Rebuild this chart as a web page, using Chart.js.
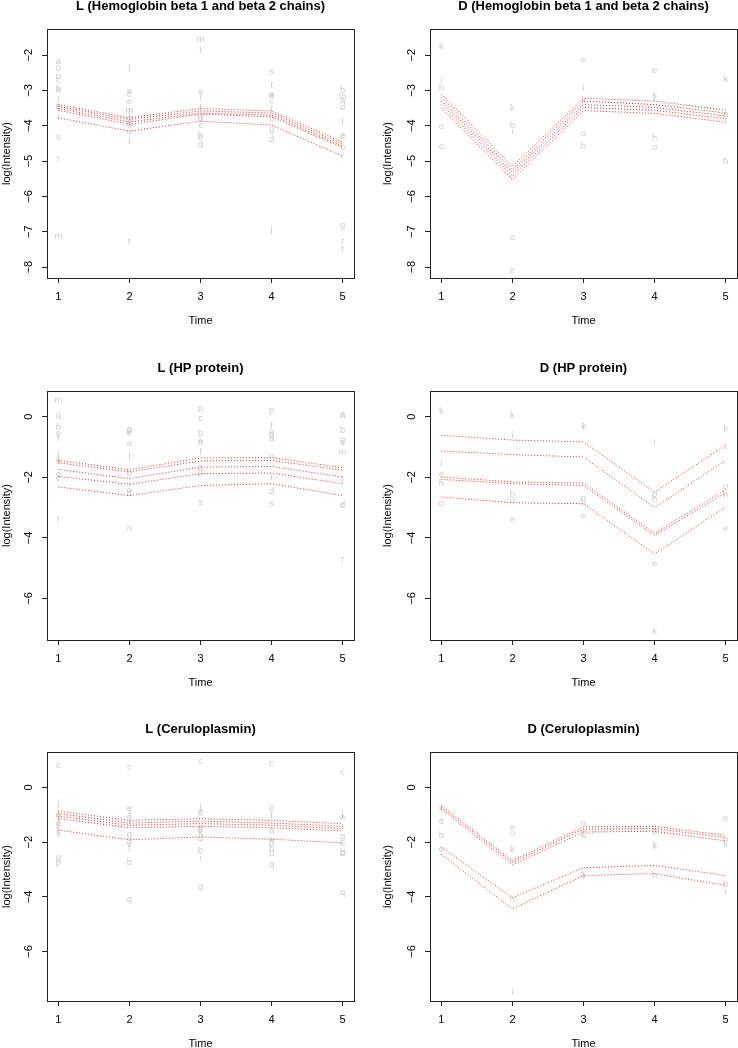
<!DOCTYPE html>
<html>
<head>
<meta charset="utf-8">
<title>log(Intensity) over time</title>
<script src="https://cdn.jsdelivr.net/npm/chart.js@4.4.1/dist/chart.umd.min.js"></script>
<style>
  body { margin: 0; background: #fff; width: 738px; height: 1048px; overflow: hidden; position: relative; }
  canvas { position: absolute; }
</style>
</head>
<body>
<canvas id="hbL" width="369" height="330" style="left:0;top:0"></canvas>
<canvas id="hbD" width="369" height="330" style="left:369px;top:0"></canvas>
<canvas id="hpL" width="369" height="330" style="left:0;top:362px"></canvas>
<canvas id="hpD" width="369" height="330" style="left:369px;top:362px"></canvas>
<canvas id="cpL" width="369" height="330" style="left:0;top:723px"></canvas>
<canvas id="cpD" width="369" height="330" style="left:369px;top:723px"></canvas>
<script>
// time points and tick labels
const times = [1, 2, 3, 4, 5];
const hbTicks = [-8, -7, -6, -5, -4, -3, -2];
const evenTicks = [-6, -4, -2, 0];

// axis limits (R pads the data range by 4%)
const hbRange = [-8.31, -1.26];
const hpRange = [-7.37, 0.85];
const cpRange = [-7.81, 1.30];

// sample labels: [time, letter, log intensity]
const hbL_pts = [
  [1,'a',-2.17],[1,'o',-2.38],[1,'p',-2.60],[1,'c',-2.71],[1,'n',-2.95],[1,'k',-3.01],[1,'l',-3.28],
  [1,'e',-3.45],[1,'b',-3.49],[1,'i',-3.75],[1,'s',-4.32],[1,'r',-4.93],[1,'m',-7.13],
  [2,'l',-2.38],[2,'a',-3.04],[2,'c',-3.11],[2,'e',-3.32],[2,'m',-3.56],[2,'f',-3.64],[2,'g',-3.80],
  [2,'d',-3.92],[2,'b',-3.98],[2,'o',-4.17],[2,'j',-4.39],[2,'r',-7.26],
  [3,'m',-1.56],[3,'t',-1.86],[3,'a',-3.04],[3,'l',-3.23],[3,'f',-3.51],[3,'g',-3.73],[3,'d',-3.80],
  [3,'c',-3.98],[3,'b',-4.27],[3,'e',-4.32],[3,'q',-4.52],
  [4,'s',-2.47],[4,'t',-2.85],[4,'a',-3.11],[4,'e',-3.13],[4,'c',-3.32],[4,'f',-3.56],[4,'b',-3.80],
  [4,'g',-4.11],[4,'d',-4.39],[4,'j',-6.94],
  [5,'b',-2.99],[5,'m',-3.18],[5,'a',-3.28],[5,'d',-3.47],[5,'l',-3.89],[5,'e',-4.27],[5,'c',-4.30],
  [5,'o',-4.60],[5,'g',-6.82],[5,'r',-7.26],[5,'t',-7.51]
];
const hbD_pts = [
  [1,'k',-1.74],[1,'i',-2.71],[1,'h',-2.95],[1,'o',-4.03],[1,'e',-4.58],
  [2,'k',-3.51],[2,'h',-4.00],[2,'i',-4.15],[2,'o',-7.15],[2,'e',-8.08],
  [3,'e',-2.14],[3,'i',-2.95],[3,'k',-3.28],[3,'o',-4.22],[3,'h',-4.57],
  [4,'e',-2.43],[4,'k',-3.13],[4,'i',-3.26],[4,'h',-4.36],[4,'o',-4.62],
  [5,'k',-2.68],[5,'e',-3.68],[5,'o',-3.73],[5,'i',-3.84],[5,'h',-5.02]
];
const hpL_pts = [
  [1,'m',0.55],[1,'q',0.03],[1,'b',-0.36],[1,'e',-0.55],[1,'f',-0.72],[1,'l',-1.27],[1,'a',-1.41],
  [1,'s',-1.46],[1,'g',-1.90],[1,'c',-2.04],[1,'r',-3.40],
  [2,'g',-0.42],[2,'p',-0.46],[2,'c',-0.55],[2,'a',-0.88],[2,'l',-1.33],[2,'b',-1.86],[2,'i',-2.21],
  [2,'e',-2.43],[2,'d',-2.54],[2,'n',-3.67],
  [3,'p',0.28],[3,'c',-0.06],[3,'b',-0.55],[3,'e',-0.81],[3,'n',-0.86],[3,'f',-1.16],[3,'a',-1.66],
  [3,'g',-1.82],[3,'s',-2.84],
  [4,'p',0.20],[4,'f',-0.33],[4,'e',-0.50],[4,'g',-0.57],[4,'a',-0.72],[4,'o',-1.27],[4,'i',-1.99],
  [4,'d',-2.45],[4,'s',-2.87],
  [5,'a',0.09],[5,'n',0.02],[5,'b',-0.44],[5,'g',-0.75],[5,'e',-0.83],[5,'m',-1.16],[5,'l',-2.10],
  [5,'d',-2.90],[5,'c',-2.93],[5,'r',-4.70]
];
const hpD_pts = [
  [1,'k',0.17],[1,'i',-1.55],[1,'e',-1.90],[1,'h',-2.21],[1,'o',-2.87],
  [2,'k',0.03],[2,'i',-0.61],[2,'h',-2.56],[2,'o',-2.76],[2,'e',-3.40],
  [3,'k',-0.31],[3,'i',-0.35],[3,'o',-2.71],[3,'h',-2.84],[3,'e',-3.29],
  [4,'i',-0.83],[4,'o',-2.56],[4,'h',-2.73],[4,'e',-4.84],[4,'k',-7.10],
  [5,'k',-0.39],[5,'i',-0.99],[5,'o',-2.29],[5,'h',-2.57],[5,'e',-3.67]
];
const cpL_pts = [
  [1,'c',0.82],[1,'j',-0.59],[1,'o',-0.98],[1,'e',-1.05],[1,'a',-1.26],[1,'f',-1.32],[1,'k',-1.44],
  [1,'s',-1.63],[1,'t',-1.71],[1,'g',-2.54],[1,'p',-2.73],
  [2,'c',0.73],[2,'e',-0.77],[2,'i',-0.86],[2,'a',-1.01],[2,'f',-1.26],[2,'g',-1.71],[2,'d',-1.99],
  [2,'r',-2.08],[2,'t',-2.24],[2,'b',-2.73],[2,'q',-4.10],
  [3,'c',0.94],[3,'j',-0.71],[3,'g',-0.89],[3,'e',-1.44],[3,'a',-1.54],[3,'k',-1.63],[3,'d',-1.87],
  [3,'b',-2.30],[3,'i',-2.60],[3,'q',-3.62],
  [4,'c',0.90],[4,'p',-0.71],[4,'f',-1.01],[4,'a',-1.56],[4,'k',-1.93],[4,'d',-2.03],[4,'h',-2.27],
  [4,'b',-2.40],[4,'q',-2.81],
  [5,'c',0.57],[5,'j',-0.95],[5,'a',-1.10],[5,'f',-1.50],[5,'g',-1.78],[5,'e',-2.05],[5,'b',-2.36],
  [5,'d',-2.42],[5,'q',-3.83]
];
const cpD_pts = [
  [1,'k',-0.77],[1,'i',-1.18],[1,'o',-1.22],[1,'h',-1.75],[1,'e',-2.26],
  [2,'e',-1.44],[2,'o',-1.69],[2,'k',-2.27],[2,'h',-4.10],[2,'i',-7.49],
  [3,'o',-1.32],[3,'e',-1.59],[3,'k',-1.75],[3,'h',-3.22],[3,'i',-3.25],
  [4,'o',-1.59],[4,'e',-1.62],[4,'k',-2.11],[4,'i',-2.15],[4,'h',-3.22],
  [5,'e',-1.14],[5,'o',-1.91],[5,'k',-2.09],[5,'h',-3.56],[5,'i',-3.80]
];

// fitted curves, one value per time point
const hbL_fit = [
  [-3.40, -3.77, -3.51, -3.58, -4.46],
  [-3.45, -3.82, -3.58, -3.64, -4.52],
  [-3.51, -3.89, -3.64, -3.70, -4.58],
  [-3.56, -3.96, -3.67, -3.75, -4.62],
  [-3.78, -4.15, -3.87, -3.98, -4.86]
];
const hbD_fit = [
  [-3.10, -5.15, -3.22, -3.30, -3.56],
  [-3.20, -5.25, -3.30, -3.40, -3.64],
  [-3.30, -5.33, -3.40, -3.48, -3.72],
  [-3.40, -5.42, -3.48, -3.56, -3.80],
  [-3.50, -5.52, -3.57, -3.65, -3.90]
];
const hpL_fit = [
  [-1.44, -1.75, -1.36, -1.35, -1.68],
  [-1.52, -1.82, -1.46, -1.44, -1.77],
  [-1.74, -2.04, -1.66, -1.64, -1.99],
  [-1.97, -2.23, -1.88, -1.86, -2.21],
  [-2.32, -2.60, -2.27, -2.21, -2.60]
];
const hpD_fit = [
  [-0.61, -0.77, -0.83, -2.49, -0.94],
  [-1.13, -1.25, -1.33, -3.00, -1.44],
  [-1.99, -2.15, -2.19, -3.85, -2.41],
  [-2.07, -2.21, -2.27, -3.92, -2.51],
  [-2.65, -2.84, -2.87, -4.53, -2.98]
];
const cpL_fit = [
  [-0.86, -1.20, -1.14, -1.20, -1.32],
  [-0.95, -1.30, -1.23, -1.30, -1.42],
  [-1.05, -1.38, -1.32, -1.38, -1.50],
  [-1.14, -1.47, -1.42, -1.47, -1.59],
  [-1.56, -1.91, -1.81, -1.89, -2.03]
];
const cpD_fit = [
  [-0.65, -2.67, -1.44, -1.42, -1.75],
  [-0.72, -2.74, -1.52, -1.50, -1.83],
  [-0.80, -2.83, -1.63, -1.60, -1.95],
  [-2.18, -4.03, -2.93, -2.85, -3.22],
  [-2.45, -4.44, -3.22, -3.15, -3.58]
];

const FONT = '"Liberation Sans", Arial, Helvetica, sans-serif';
const LETTER_GREY = '#cccccc';
const LINE_RED = 'rgb(232, 35, 35)';
const AXIS_COL = '#222';

Chart.defaults.font.family = FONT;
Chart.defaults.color = '#000';

// grey sample letters, placed through the scales (drawn under the lines)
const letterPlugin = {
  id: 'letters',
  beforeDatasetsDraw(chart) {
    const ctx = chart.ctx;
    const meta = chart.getDatasetMeta(0);
    const raw = chart.data.datasets[0].data;
    ctx.save();
    ctx.font = '9.5px ' + FONT;
    ctx.fillStyle = LETTER_GREY;
    ctx.textAlign = 'center';
    ctx.textBaseline = 'middle';
    meta.data.forEach((el, i) => ctx.fillText(raw[i].lab, el.x, el.y));
    ctx.restore();
  }
};

// R style box around the plot region
const boxPlugin = {
  id: 'box',
  afterDraw(chart) {
    const { left, top, right, bottom } = chart.chartArea;
    const ctx = chart.ctx;
    ctx.save();
    ctx.strokeStyle = AXIS_COL;
    ctx.lineWidth = 1;
    ctx.strokeRect(Math.round(left) + 0.5, Math.round(top) + 0.5,
      Math.round(right) - Math.round(left), Math.round(bottom) - Math.round(top));
    ctx.restore();
  }
};

function fmt(v) {
  return v < 0 ? '\u2212' + Math.abs(v) : String(v);
}

function buildPanel(id, title, pts, fits, range, yTicks, col) {
  const yW = col === 0 ? 47 : 61;
  new Chart(document.getElementById(id), {
    type: 'line',
    data: {
      datasets: [
        {
          type: 'scatter',
          data: pts.map(p => ({ x: p[0], y: p[2], lab: p[1] })),
          pointRadius: 0,
          showLine: false
        },
        ...fits.map(f => ({
          data: f.map((v, i) => ({ x: times[i], y: v })),
          borderColor: LINE_RED,
          borderWidth: 1,
          borderDash: [1, 2],
          pointRadius: 0,
          fill: false,
          tension: 0
        }))
      ]
    },
    options: {
      responsive: false,
      animation: false,
      events: [],
      layout: { padding: { left: 0, right: col === 0 ? 15 : 1, top: 0, bottom: 0 } },
      plugins: {
        legend: { display: false },
        tooltip: { enabled: false },
        title: {
          display: true,
          text: title,
          fullSize: false,
          color: '#000',
          font: { size: 13, weight: 'bold', lineHeight: 1 },
          padding: { top: 0, bottom: 16 }
        }
      },
      scales: {
        x: {
          type: 'linear',
          min: 0.84,
          max: 5.16,
          afterFit: s => { s.height = 52; },
          afterBuildTicks: s => { s.ticks = times.map(v => ({ value: v })); },
          ticks: { font: { size: 11 }, padding: 7, maxRotation: 0, color: '#000' },
          grid: { drawOnChartArea: false, tickLength: 5, color: AXIS_COL },
          border: { display: false },
          title: { display: true, text: 'Time', font: { size: 11 }, color: '#000', padding: { top: 0, bottom: 2 } }
        },
        y: {
          type: 'linear',
          min: range[0],
          max: range[1],
          afterFit: s => { s.width = yW; },
          afterBuildTicks: s => { s.ticks = yTicks.map(v => ({ value: v })); },
          ticks: {
            font: { size: 11 }, padding: 7, minRotation: 90, maxRotation: 90,
            crossAlign: 'center', color: '#000', callback: v => fmt(v)
          },
          grid: { drawOnChartArea: false, tickLength: 5, color: AXIS_COL },
          border: { display: false },
          title: {
            display: true, text: 'log(Intensity)', font: { size: 11 }, color: '#000',
            padding: { top: col === 0 ? 0 : 12.5, bottom: 0 }
          }
        }
      }
    },
    plugins: [letterPlugin, boxPlugin]
  });
}

buildPanel('hbL', 'L (Hemoglobin beta 1 and beta 2 chains)', hbL_pts, hbL_fit, hbRange, hbTicks, 0);
buildPanel('hbD', 'D (Hemoglobin beta 1 and beta 2 chains)', hbD_pts, hbD_fit, hbRange, hbTicks, 1);
buildPanel('hpL', 'L (HP protein)', hpL_pts, hpL_fit, hpRange, evenTicks, 0);
buildPanel('hpD', 'D (HP protein)', hpD_pts, hpD_fit, hpRange, evenTicks, 1);
buildPanel('cpL', 'L (Ceruloplasmin)', cpL_pts, cpL_fit, cpRange, evenTicks, 0);
buildPanel('cpD', 'D (Ceruloplasmin)', cpD_pts, cpD_fit, cpRange, evenTicks, 1);
</script>
</body>
</html>
